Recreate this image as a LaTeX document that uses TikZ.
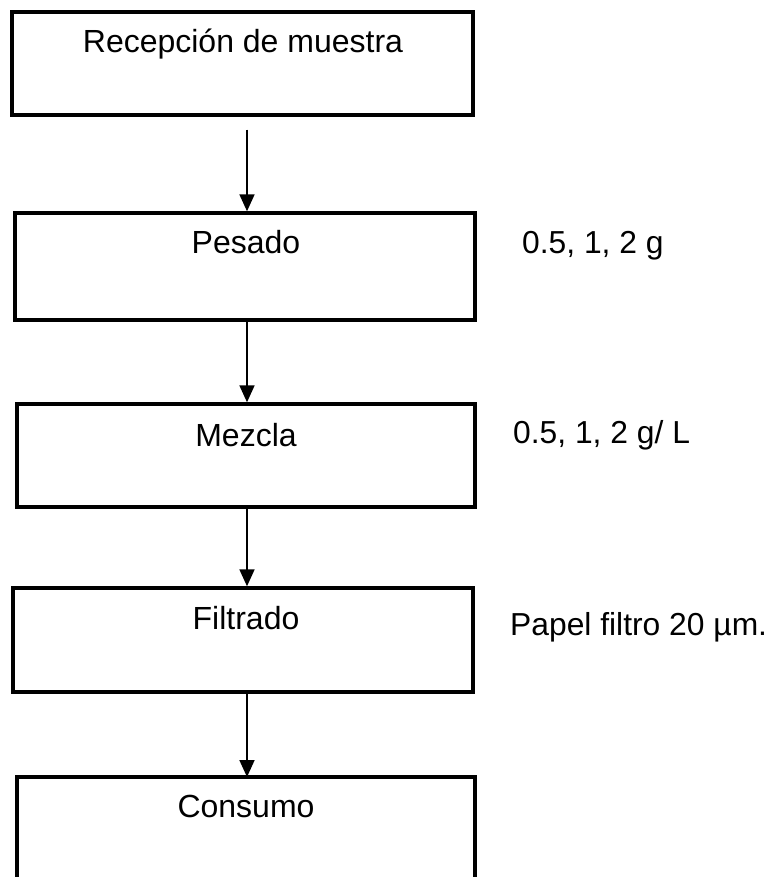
\documentclass[tikz,border=0pt]{standalone}
\usepackage{fontspec}
\setmainfont{Liberation Sans}
\usetikzlibrary{arrows.meta}
\begin{document}
\begin{tikzpicture}[x=1pt,y=-1pt,
  box/.style={draw=black, line width=3.4pt, rectangle, inner sep=0pt},
  txt/.style={anchor=base, inner sep=0pt, font=\fontsize{32}{38}\selectfont},
  side/.style={anchor=base west, inner sep=0pt, font=\fontsize{31.8}{38}\selectfont},
  flow/.style={draw=black, line width=1.8pt, -{Triangle[width=15pt,length=17pt]}}]
\useasboundingbox (0,0) rectangle (772,877);
% boxes
\node[box, minimum width=461pt, minimum height=103pt] (b1) at (242.5,63.5) {};
\node[box, minimum width=460pt, minimum height=107pt] (b2) at (245,266.5) {};
\node[box, minimum width=458pt, minimum height=103pt] (b3) at (246,455.5) {};
\node[box, minimum width=460pt, minimum height=104pt] (b4) at (243,640) {};
\coordinate (b5nw) at (17,777);
\coordinate (b5ne) at (475,777);
\coordinate (b5n) at (247,777);
\draw[line width=3.4pt] (17,880) -- (b5nw) -- (b5ne) -- (475,880);
% texts
\node[txt] (t1) at (243,53) {Recepción de muestra};
\node[txt] (t2) at (246,253) {Pesado};
\node[txt] (t3) at (246,446) {Mezcla};
\node[txt] (t4) at (246,629) {Filtrado};
\node[txt] (t5) at (246,817) {Consumo};
\node[side] (s2) at (522,253) {0.5, 1, 2 g};
\node[side] (s3) at (513,443) {0.5, 1, 2 g/ L};
\node[side] (s4) at (510,635) {Papel filtro 20 µm.};
% arrows
\draw[flow] ([xshift=4.5pt,yshift=-13pt]b1.south) -- ([xshift=2pt]b2.north);
\draw[flow] ([xshift=2pt]b2.south) -- ([xshift=1pt]b3.north);
\draw[flow] ([xshift=1pt]b3.south) -- ([xshift=4pt]b4.north);
\draw[flow] ([xshift=4pt]b4.south) -- (b5n);
\end{tikzpicture}
\end{document}
